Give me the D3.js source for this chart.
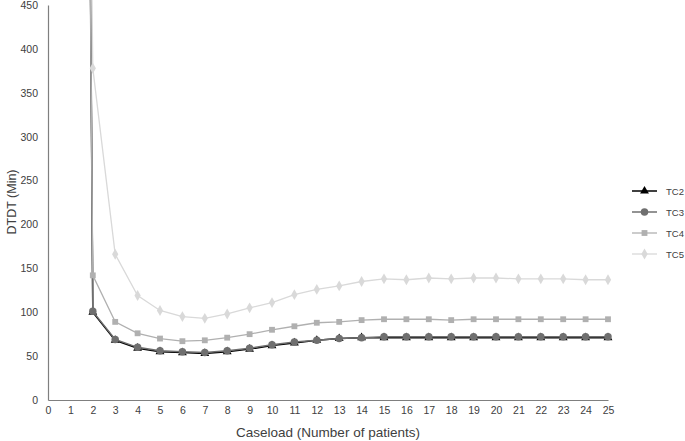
<!DOCTYPE html>
<meta charset="utf-8">
<style>
body { margin: 0; background: #fff; overflow: hidden; }
svg { display: block; }
text { font-family: "Liberation Sans", Arial, sans-serif; fill: #404040; }
.tick line { display: none; }
</style>
<script src="https://d3js.org/d3.v7.min.js"></script>
<body>
<script>

var caseload = [1,2,3,4,5,6,7,8,9,10,11,12,13,14,15,16,17,18,19,20,21,22,23,24,25];
var tc2 = [3800,100,68,59,55,54,53,55,58,62,65,68,70,71,71,71,71,71,71,71,71,71,71,71,71];
var tc3 = [3600,101,69,60,56,55,54,56,59,63,66,68,70,71,72,72,72,72,72,72,72,72,72,72,72];
var tc4 = [3200,142,89,76,70,67,68,71,75,80,84,88,89,91,92,92,92,91,92,92,92,92,92,92,92];
var tc5 = [2500,378,166,119,102,95,93,98,105,111,120,126,130,135,138,137,139,138,139,139,138,138,138,137,137];
var seriesNames = ["TC2","TC3","TC4","TC5"];
var xTicks = d3.range(0, 26);
var yTicks = [0,50,100,150,200,250,300,350,400,450];

var width = 685, height = 441;
var margin = {left: 48, right: 77, top: 5, bottom: 41};

var svg = d3.select("body").append("svg")
  .attr("width", width)
  .attr("height", height);

var x = d3.scaleLinear().domain([0, 25]).range([margin.left, width - margin.right]);
var y = d3.scaleLinear().domain([0, 450]).range([height - margin.bottom, margin.top]);

// axes
var xAxis = svg.append("g")
  .attr("transform", "translate(0," + y(0) + ")")
  .call(d3.axisBottom(x).tickValues(xTicks).tickSize(0).tickPadding(7));
xAxis.select(".domain").attr("stroke", "#7f7f7f").attr("stroke-width", 1.2);
xAxis.selectAll("text").style("font-size", "10.5px").attr("fill", "#404040");

var yAxis = svg.append("g")
  .attr("transform", "translate(" + x(0) + ",0)")
  .call(d3.axisLeft(y).tickValues(yTicks).tickSize(0).tickPadding(10));
yAxis.select(".domain").attr("stroke", "#7f7f7f").attr("stroke-width", 1.2);
yAxis.selectAll("text").style("font-size", "10.5px").attr("fill", "#404040");

svg.append("text")
  .attr("x", (x(0) + x(25)) / 2)
  .attr("y", 437)
  .attr("text-anchor", "middle")
  .style("font-size", "13.5px")
  .text("Caseload (Number of patients)");

svg.append("text")
  .attr("transform", "translate(16," + 202 + ") rotate(-90)")
  .attr("text-anchor", "middle")
  .style("font-size", "12.5px")
  .text("DTDT (Min)");

svg.append("clipPath").attr("id", "plotClip")
  .append("rect")
  .attr("x", x(0)).attr("y", 0)
  .attr("width", x(25) - x(0) + 10)
  .attr("height", y(0));

var series = [
  {name: "TC2", values: tc2, color: "#000000", shape: d3.symbolTriangle, size: 34, width: 1.5},
  {name: "TC3", values: tc3, color: "#6f6f6f", shape: d3.symbolCircle, size: 44, width: 1.5},
  {name: "TC4", values: tc4, color: "#b0b0b0", shape: d3.symbolSquare, size: 34, width: 1.3},
  {name: "TC5", values: tc5, color: "#d9d9d9", shape: d3.symbolDiamond, size: 34, width: 1.3}
];

var line = d3.line()
  .x(function(d, i) { return x(caseload[i]); })
  .y(function(d) { return y(d); });

var plot = svg.append("g").attr("clip-path", "url(#plotClip)");

series.forEach(function(s) {
  plot.append("path")
    .datum(s.values)
    .attr("d", line)
    .attr("fill", "none")
    .attr("stroke", s.color)
    .attr("stroke-width", s.width);

  plot.selectAll(".pt-" + s.name)
    .data(s.values)
    .enter().append("path")
    .attr("class", "pt-" + s.name)
    .attr("transform", function(d, i) { return "translate(" + x(caseload[i]) + "," + y(d) + ")"; })
    .attr("d", d3.symbol().type(s.shape).size(s.size))
    .attr("fill", s.color);
});

// legend
var legend = svg.append("g").attr("transform", "translate(632,191)");
series.forEach(function(s, i) {
  var g = legend.append("g").attr("transform", "translate(0," + (i * 21) + ")");
  g.append("line")
    .attr("x1", 0).attr("x2", 25)
    .attr("stroke", s.color).attr("stroke-width", s.width);
  g.append("path")
    .attr("transform", "translate(12.5,0)")
    .attr("d", d3.symbol().type(s.shape).size(s.size))
    .attr("fill", s.color);
  g.append("text")
    .attr("x", 34).attr("y", 3.5)
    .style("font-family", "'Liberation Sans Narrow', 'Liberation Sans', sans-serif")
    .style("font-size", "9.5px")
    .text(s.name);
});

</script>
</body>
